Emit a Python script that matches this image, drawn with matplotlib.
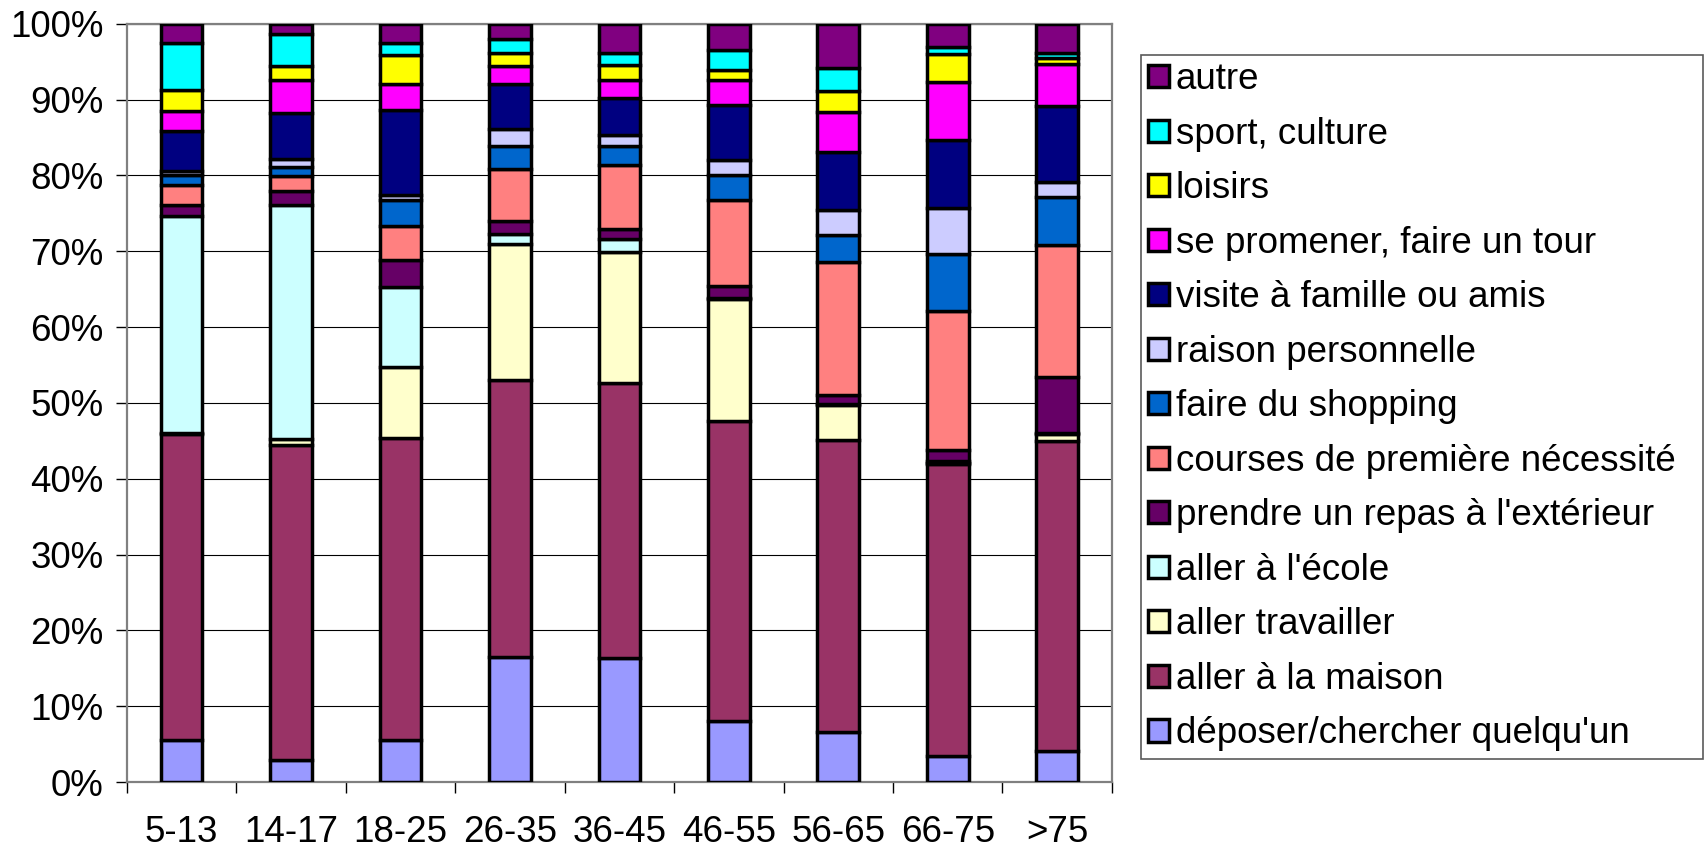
import numpy as np
import matplotlib
matplotlib.use('Agg')
import matplotlib.pyplot as plt
from matplotlib.ticker import MultipleLocator, FuncFormatter

plt.rcParams.update({'font.family': ['Liberation Sans', 'DejaVu Sans'], 'font.size': 26.5})

ages = ['5-13', '14-17', '18-25', '26-35', '36-45', '46-55', '56-65', '66-75', '>75']

# share (%) of each trip purpose, by age group (bottom to top of the stack)
deposer     = [5.6, 2.9, 5.6, 16.5, 16.4, 8.1, 6.6, 3.4, 4.1]
maison      = [40.3, 41.5, 39.8, 36.5, 36.2, 39.5, 38.5, 38.5, 40.9]
travailler  = [0.1, 0.8, 9.3, 17.9, 17.3, 16.1, 4.6, 0.2, 0.9]
ecole       = [28.6, 30.9, 10.6, 1.4, 1.7, 0.2, 0.1, 0.3, 0.1]
repas       = [1.5, 1.8, 3.5, 1.7, 1.3, 1.5, 1.3, 1.4, 7.4]
courses     = [2.6, 2.0, 4.6, 6.8, 8.5, 11.3, 17.5, 18.3, 17.4]
shopping    = [1.3, 1.2, 3.3, 3.1, 2.5, 3.3, 3.6, 7.6, 6.3]
raison      = [0.6, 1.1, 0.7, 2.2, 1.5, 2.1, 3.2, 6.0, 2.1]
visite      = [5.3, 6.1, 11.2, 6.0, 4.8, 7.2, 7.7, 9.0, 10.0]
promener    = [2.6, 4.3, 3.4, 2.4, 2.4, 3.3, 5.3, 7.6, 5.5]
loisirs     = [2.8, 1.8, 3.9, 1.6, 2.0, 1.3, 2.8, 3.7, 0.8]
sport       = [6.2, 4.2, 1.6, 1.9, 1.6, 2.7, 3.0, 1.0, 0.7]
autre       = [2.5, 1.4, 2.5, 2.0, 3.8, 3.4, 5.8, 3.0, 3.8]

series = [
    ("déposer/chercher quelqu'un", deposer, '#9999FF'),
    ('aller à la maison', maison, '#993366'),
    ('aller travailler', travailler, '#FFFFCC'),
    ("aller à l'école", ecole, '#CCFFFF'),
    ("prendre un repas à l'extérieur", repas, '#660066'),
    ('courses de première nécessité', courses, '#FF8080'),
    ('faire du shopping', shopping, '#0066CC'),
    ('raison personnelle', raison, '#CCCCFF'),
    ('visite à famille ou amis', visite, '#000080'),
    ('se promener, faire un tour', promener, '#FF00FF'),
    ('loisirs', loisirs, '#FFFF00'),
    ('sport, culture', sport, '#00FFFF'),
    ('autre', autre, '#800080'),
]

fig = plt.figure(figsize=(17.04, 8.51), dpi=100)
ax = fig.add_axes([0.0745, 0.081, 0.578, 0.891])

x = np.arange(len(ages))
bottom = np.zeros(len(ages))
handles = []
for label, vals, color in series:
    vals = np.array(vals)
    b = ax.bar(x, vals, 0.38, bottom=bottom, color=color, edgecolor='black',
               linewidth=2.5, label=label, zorder=3)
    handles.append(b)
    bottom += vals

ax.set_xlim(-0.5, len(ages) - 0.5)
ax.set_ylim(0, 100)
ax.yaxis.set_major_locator(MultipleLocator(10))
ax.yaxis.set_major_formatter(FuncFormatter(lambda v, p: f'{v:.0f}%'))
ax.grid(axis='y', color='black', linewidth=0.8, zorder=0)

ax.set_xticks(x)
ax.set_xticklabels(ages)
ax.set_xticks(np.arange(-0.5, len(ages)), minor=True)
ax.tick_params(axis='x', which='major', length=0, pad=24)
ax.tick_params(axis='x', which='minor', length=8, width=1, direction='out')
ax.tick_params(axis='y', length=8, width=1, direction='out', pad=9)

for s in ax.spines.values():
    s.set_color('#808080')
    s.set_linewidth(1.6)

leg = fig.legend(handles[::-1], [s[0] for s in series][::-1],
                 loc='upper left',
                 bbox_to_anchor=(1141 / 1704, 1 - 755 / 851, 562 / 1704, 700 / 851),
                 mode='expand', fontsize=26.5, frameon=True, fancybox=False,
                 edgecolor='#303030', handlelength=0.55, handleheight=0.55,
                 handletextpad=0.2, labelspacing=0.53, borderpad=0.2,
                 borderaxespad=0)
leg.get_frame().set_linewidth(1.2)

fig.savefig('out.png', dpi=100)
